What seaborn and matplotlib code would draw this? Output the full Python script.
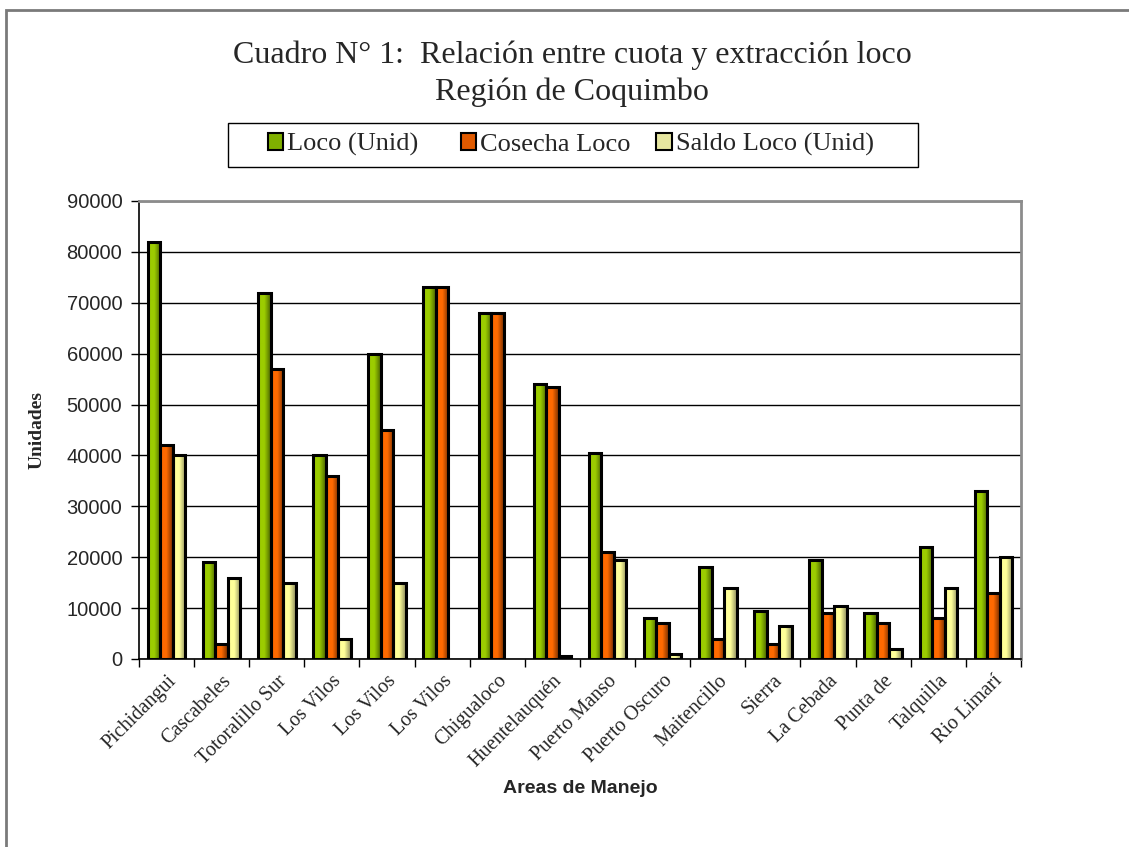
import numpy as np
import pandas as pd
import matplotlib
matplotlib.use("Agg")
import matplotlib.pyplot as plt
import seaborn as sns
from matplotlib.colors import LinearSegmentedColormap
from matplotlib.patches import Patch, Rectangle

# Áreas de manejo (en orden) y series de la tabla
areas = ["Pichidangui", "Cascabeles", "Totoralillo Sur", "Los Vilos", "Los Vilos",
         "Los Vilos", "Chigualoco", "Huentelauquén", "Puerto Manso", "Puerto Oscuro",
         "Maitencillo", "Sierra", "La Cebada", "Punta de", "Talquilla", "Rio Limarí"]
series = ["Loco (Unid)", "Cosecha Loco", "Saldo Loco (Unid)"]
loco = [82000, 19000, 72000, 40000, 60000, 73000, 68000, 54000, 40500, 8000,
        18000, 9500, 19500, 9000, 22000, 33000]
cosecha = [42000, 3000, 57000, 36000, 45000, 73000, 68000, 53500, 21000, 7000,
           4000, 3000, 9000, 7000, 8000, 13000]
saldo = [40000, 16000, 15000, 4000, 15000, 0, 0, 500, 19500, 1000,
         14000, 6500, 10500, 2000, 14000, 20000]
yticks = [0, 10000, 20000, 30000, 40000, 50000, 60000, 70000, 80000, 90000]

# colores: tono claro (izquierda) y oscuro (derecha) de cada serie
light = ["#9ccc00", "#ff6a00", "#ffff99"]
dark = ["#4a6400", "#7a3000", "#8c8a5e"]
mid = ["#80b000", "#e05a00", "#e6e6a0"]

df = pd.DataFrame({
    "idx": np.tile(np.arange(len(areas)), 3),
    "serie": np.repeat(series, len(areas)),
    "valor": loco + cosecha + saldo,
})

sns.set_style("white")
plt.rcParams["font.family"] = ["Liberation Serif", "DejaVu Serif"]

fig = plt.figure(figsize=(11.29, 8.47), dpi=100)
ax = fig.add_axes([0.1231, 0.2220, 0.9043 - 0.1231, 0.7627 - 0.2220])

sns.barplot(data=df, x="idx", y="valor", hue="serie", hue_order=series,
            palette=mid, width=0.68, saturation=1, edgecolor="black",
            linewidth=2.2, ax=ax, legend=False, zorder=3)

# relleno degradado horizontal dentro de cada barra
grad = np.linspace(0, 1, 64).reshape(1, -1)
for cont, c0, c1 in zip(ax.containers, light, dark):
    cmap = LinearSegmentedColormap.from_list("g", [c0, c0, c1])
    for p in cont.patches:
        x0, y0 = p.get_xy()
        w, h = p.get_width(), p.get_height()
        p.set_facecolor("none")
        if h <= 0:
            p.set_visible(False)
            continue
        im = ax.imshow(grad, extent=[x0, x0 + w, y0, y0 + h], aspect="auto",
                       cmap=cmap, zorder=2.9, interpolation="bilinear")
        im.set_clip_path(p)

ax.set_xlim(-0.5, len(areas) - 0.5)
ax.set_ylim(0, 90000)
ax.set_yticks(yticks)
ax.set_yticklabels([str(v) for v in yticks], family="Liberation Sans", fontsize=14.5)
ax.yaxis.grid(True, color="black", linewidth=1, zorder=0)
ax.set_axisbelow(True)
ax.tick_params(axis="y", which="major", direction="out", length=6, width=1,
               color="black", left=True, pad=6)

ax.set_xticks(np.arange(len(areas)))
ax.set_xticklabels(areas, rotation=45, ha="right", rotation_mode="anchor",
                   fontsize=14.5)
ax.tick_params(axis="x", which="major", length=0, pad=9)
ax.set_xticks(np.arange(len(areas) + 1) - 0.5, minor=True)
ax.tick_params(axis="x", which="minor", direction="out", length=6, width=1,
               color="black", bottom=True)

for side in ["left", "bottom"]:
    ax.spines[side].set_color("black")
    ax.spines[side].set_linewidth(1.2)
for side in ["top", "right"]:
    ax.spines[side].set_color("#8c8c8c")
    ax.spines[side].set_linewidth(2)

ax.set_ylabel("Unidades", fontsize=14, fontweight="bold", labelpad=15)
ax.set_xlabel("")
fig.text(0.514, 0.069, "Areas de Manejo", family="Liberation Sans",
         fontsize=14, fontweight="bold", ha="center", va="center")

fig.text(0.507, 0.935, "Cuadro N° 1:  Relación entre cuota y extracción loco",
         fontsize=23, ha="center", va="center")
fig.text(0.507, 0.891, "Región de Coquimbo", fontsize=23, ha="center", va="center")

# leyenda: entradas de igual ancho dentro de un recuadro
entry_x = [0.237, 0.408, 0.581]
for name, c, xa in zip(series, mid, entry_x):
    lg = fig.legend([Patch(facecolor=c, edgecolor="black", linewidth=1.5)], [name],
                    loc="center left", bbox_to_anchor=(xa, 0.829), fontsize=19,
                    frameon=False, handlelength=0.6, handleheight=0.6,
                    handletextpad=0.15, borderpad=0.0, borderaxespad=0.0)
fig.add_artist(Rectangle((228 / 1129, 1 - 167 / 847), 690 / 1129, 44 / 847,
                         transform=fig.transFigure, fill=False,
                         edgecolor="black", linewidth=1))

# marco exterior del gráfico
fig.add_artist(Rectangle((6 / 1129, -0.5), 2.0, 0.5 + 1 - 10 / 847,
                         transform=fig.transFigure, fill=False,
                         edgecolor="#7a7a7a", linewidth=2, clip_on=False))

fig.savefig("out.png", dpi=100)
